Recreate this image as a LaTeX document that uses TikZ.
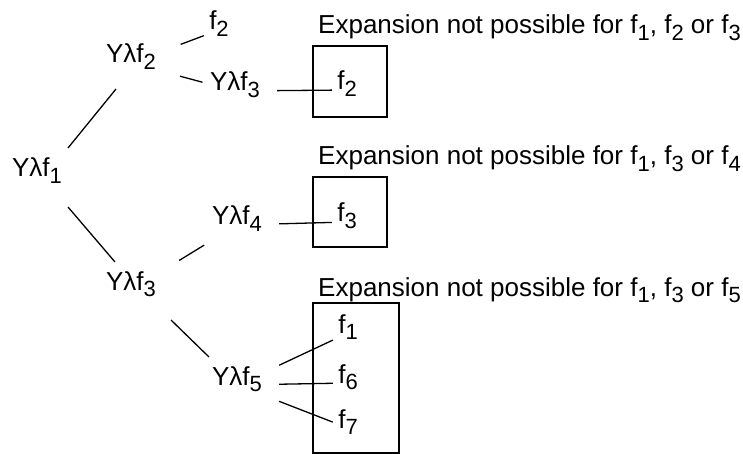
\documentclass[tikz,border=0pt]{standalone}
\usepackage{fontspec}
\setmainfont{Liberation Sans}
\usepackage{tikz}
\newcommand{\lowsub}[1]{\raisebox{-6.8pt}{\fontsize{22}{22}\selectfont #1}}

\begin{document}
\begin{tikzpicture}[
    x=1pt, y=-1pt,
    every node/.style={font=\fontsize{26}{31}\selectfont},
    lam/.style={
      anchor=base, inner sep=0pt,
      text height=8pt, text depth=8pt,
      minimum width=84pt, minimum height=60pt,
    },
    leaf/.style={
      anchor=base, inner sep=0pt,
      text height=8pt, text depth=8pt,
      minimum width=30pt, minimum height=24pt,
    },
    note/.style={anchor=base west, inner sep=0pt},
    link/.style={line width=1.3pt},
    frame/.style={line width=1.3pt},
  ]

  \useasboundingbox (0,0) rectangle (743,454);

  % =================== Expansion tree ===================
  \node[lam] (y1)  at (37, 177)  {Yλf\lowsub{1}};
  \node[lam] (y2)  at (131, 63)  {Yλf\lowsub{2}};
  \node[lam] (y3a) at (235, 91)  {Yλf\lowsub{3}};
  \node[lam] (y3b) at (131, 290) {Yλf\lowsub{3}};
  \node[lam] (y4)  at (237, 225) {Yλf\lowsub{4}};
  \node[lam] (y5)  at (237, 385) {Yλf\lowsub{5}};

  \node[leaf] (f2t) at (219, 30) {f\lowsub{2}};

  \draw[link] ([shift={(31,-29)}]y1.base) -- ([shift={(-15,26)}]y2.base);
  \draw[link] ([shift={(31,30)}]y1.base) -- ([shift={(-16,-28)}]y3b.base);
  \draw[link, shorten <=8pt] (y2) -- (f2t);
  \draw[link, shorten <=7pt, shorten >=-10pt] (y2) -- (y3a);
  \draw[link, shorten <=7pt, shorten >=-11pt] (y3b) -- (y4);
  \draw[link] ([shift={(40,30)}]y3b.base) -- ([shift={(-28,-28)}]y5.base);

  % =================== Blocked expansions ===================
  \node[note] (n1) at (318, 34)  {Expansion not possible for f\lowsub{1}, f\lowsub{2} or f\lowsub{3}};
  \node[note] (n2) at (318, 165) {Expansion not possible for f\lowsub{1}, f\lowsub{3} or f\lowsub{4}};
  \node[note] (n3) at (318, 296) {Expansion not possible for f\lowsub{1}, f\lowsub{3} or f\lowsub{5}};

  % Boxes
  \draw[frame] (313, 46) rectangle (387, 117);
  \draw[frame] (313, 177) rectangle (387, 247);
  \draw[frame] (313, 303) rectangle (399, 453);

  \node[leaf] (fb2) at (347, 90)  {f\lowsub{2}};
  \node[leaf] (fb3) at (347, 222) {f\lowsub{3}};
  \node[leaf] (f1)  at (348, 333) {f\lowsub{1}};
  \node[leaf] (f6)  at (348, 383) {f\lowsub{6}};
  \node[leaf] (f7)  at (348, 428) {f\lowsub{7}};

  \draw[link] (y3a) -- (fb2);
  \draw[link] (y4) -- (fb3);
  \draw[link] (y5) -- (f1);
  \draw[link] (y5) -- (f6);
  \draw[link] (y5) -- (f7);

\end{tikzpicture}
\end{document}
